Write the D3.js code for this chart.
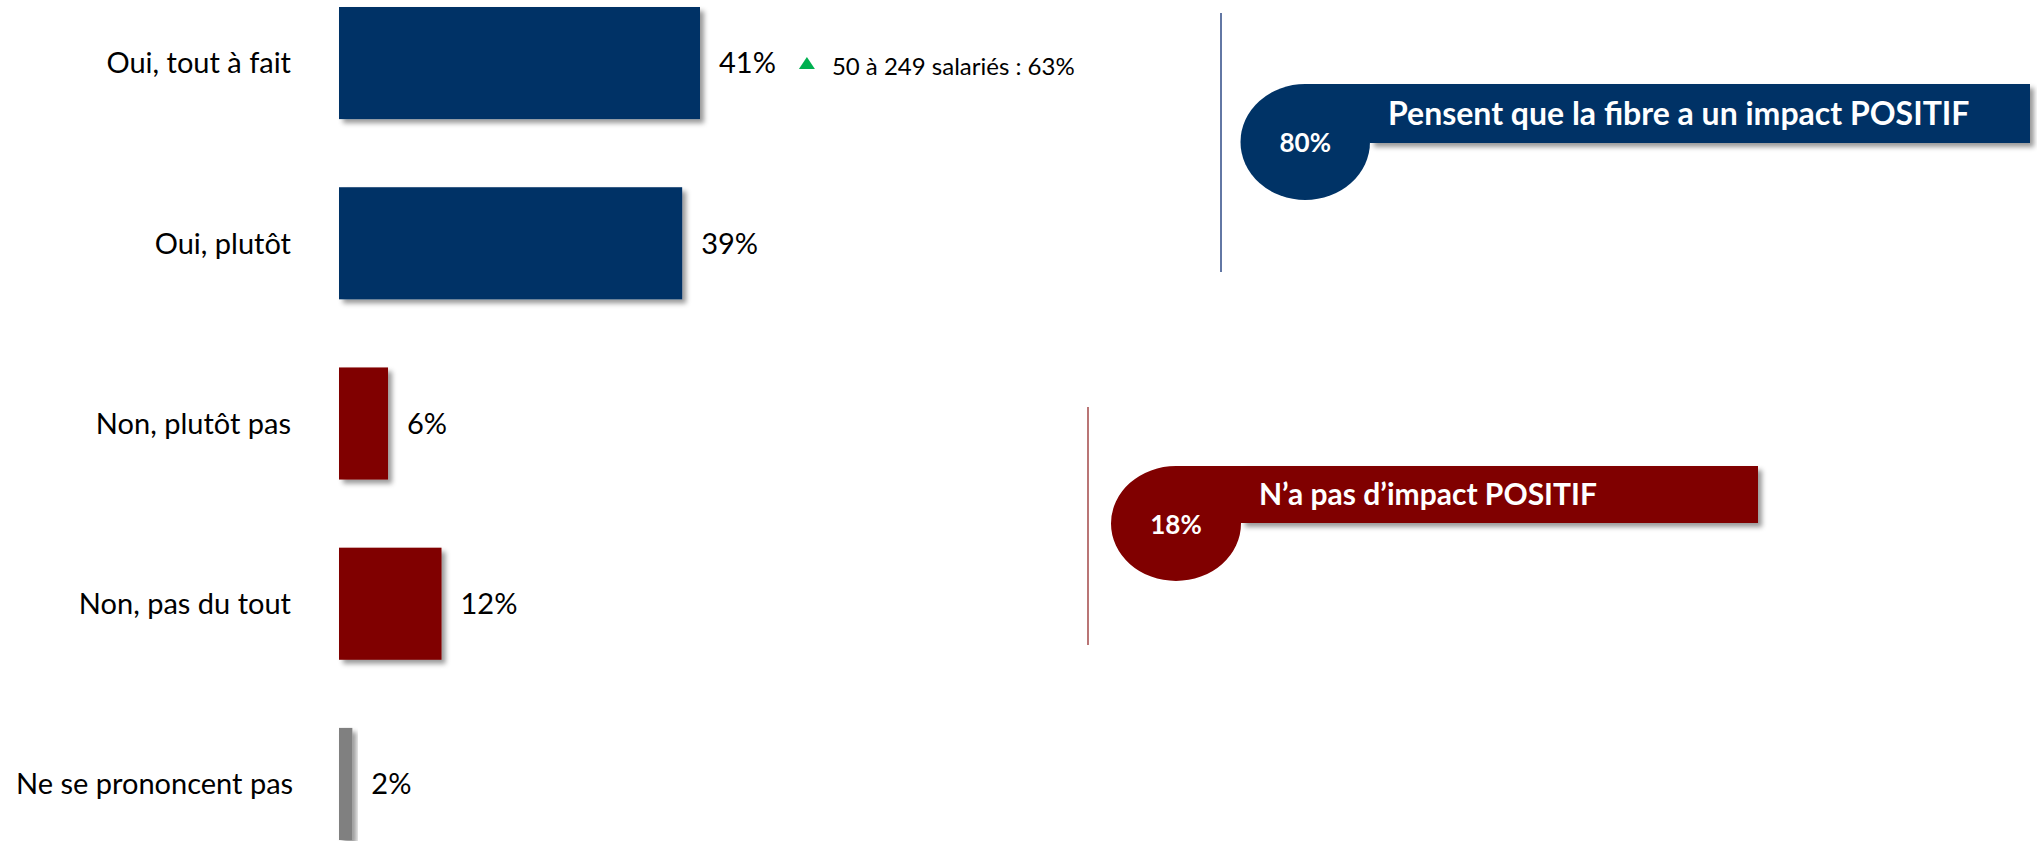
<!DOCTYPE html>
<html>
<head>
<meta charset="utf-8">
<script src="https://cdn.jsdelivr.net/npm/d3@7"></script>
<style>
  html, body { margin: 0; padding: 0; background: #fff; }
  svg { display: block; font-family: Lato, "Open Sans", sans-serif; }
</style>
</head>
<body>
<svg id="chart" width="2037" height="841"></svg>
<script>
// ---- data ----
const categories = ["Oui, tout à fait", "Oui, plutôt", "Non, plutôt pas", "Non, pas du tout", "Ne se prononcent pas"];
const values = [41, 39, 6, 12, 2];
const groups = ["pos", "pos", "neg", "neg", "nsp"];
const valueLabels = ["41%", "39%", "6%", "12%", "2%"];
const annotationText = ["50 à 249 salariés : 63%"];
const summaryValues = ["80%", "18%"];
const summaryLabels = ["Pensent que la fibre a un impact POSITIF", "N’a pas d’impact POSITIF"];
const summaryGroups = ["pos", "neg"];

// ---- styles ----
const color = d3.scaleOrdinal().domain(["pos", "neg", "nsp"]).range(["#003366", "#800000", "#808080"]);
const lineColor = d3.scaleOrdinal().domain(["pos", "neg"]).range(["#2E4A86", "#8B1A1A"]);

const svg = d3.select("#chart");
const defs = svg.append("defs");
const f = defs.append("filter").attr("id", "shadow").attr("x", "-20%").attr("y", "-20%").attr("width", "160%").attr("height", "160%");
f.append("feDropShadow").attr("dx", 4).attr("dy", 4).attr("stdDeviation", 2.5).attr("flood-color", "#000").attr("flood-opacity", 0.4);

// ---- scales ----
const x = d3.scaleLinear().domain([0.5, 41]).range([339, 700]);
const y = d3.scaleBand().domain(categories).range([7, 840]).paddingInner(0.378).paddingOuter(0);

const labelFont = 29;
const capShift = labelFont * 0.36;

// bars
svg.append("g").selectAll("rect").data(categories).join("rect")
  .attr("x", x(0.5))
  .attr("y", d => y(d))
  .attr("width", (d, i) => x(values[i]) - x(0.5))
  .attr("height", y.bandwidth())
  .attr("fill", (d, i) => color(groups[i]))
  .attr("filter", "url(#shadow)");

// category labels
const labelRight = 291, labelMinLeft = 16;
svg.append("g").selectAll("text").data(categories).join("text")
  .attr("x", labelRight)
  .attr("y", d => y(d) + y.bandwidth() / 2 + capShift)
  .attr("text-anchor", "end")
  .attr("font-size", labelFont)
  .attr("fill", "#000")
  .text(d => d)
  .each(function () {
    const w = this.getComputedTextLength();
    if (labelRight - w < labelMinLeft) {
      d3.select(this).attr("text-anchor", "start").attr("x", labelMinLeft);
    }
  });

// value labels
const vl = svg.append("g").selectAll("text").data(categories).join("text")
  .attr("x", (d, i) => x(values[i]) + 19)
  .attr("y", d => y(d) + y.bandwidth() / 2 + capShift)
  .attr("font-size", labelFont)
  .attr("fill", "#000")
  .text((d, i) => valueLabels[i]);

// annotation next to first bar
{
  const node = vl.nodes()[0];
  const endX = x(values[0]) + 19 + node.getComputedTextLength();
  const cy = y(categories[0]) + y.bandwidth() / 2;
  const tx = endX + 23;
  svg.append("path")
    .attr("d", `M${tx},${cy + 6} L${tx + 16},${cy + 6} L${tx + 8},${cy - 6} Z`)
    .attr("fill", "#00B050");
  svg.append("text")
    .attr("x", tx + 33)
    .attr("y", cy + 12)
    .attr("font-size", 24)
    .attr("fill", "#000")
    .text(annotationText[0]);
}

// ---- summary callouts ----
const layouts = [
  { lineX: 1221, lineY0: 13, lineY1: 272, lineW: 1.5, left: 1240.5, right: 1370, top: 84, bottom: 200, bannerRight: 2030, bannerBottom: 143, fs: 32, dy: 11 },
  { lineX: 1088, lineY0: 407, lineY1: 645, lineW: 1.2, left: 1111, right: 1241, top: 466, bottom: 581, bannerRight: 1758, bannerBottom: 523, fs: 30, dy: 10 }
];

summaryValues.forEach((v, i) => {
  const L = layouts[i];
  const g = svg.append("g");
  const c = color(summaryGroups[i]);
  g.append("line")
    .attr("x1", L.lineX).attr("x2", L.lineX)
    .attr("y1", L.lineY0).attr("y2", L.lineY1)
    .attr("stroke", lineColor(summaryGroups[i]))
    .attr("stroke-width", L.lineW);
  // banner
  g.append("rect")
    .attr("x", L.right).attr("y", L.top)
    .attr("width", L.bannerRight - L.right)
    .attr("height", L.bannerBottom - L.top)
    .attr("fill", c)
    .attr("filter", "url(#shadow)");
  // teardrop shape
  const cx = (L.left + L.right) / 2, cy = (L.top + L.bottom) / 2;
  const rx = (L.right - L.left) / 2, ry = (L.bottom - L.top) / 2;
  g.append("path")
    .attr("d", `M${cx},${L.top} H${L.right} V${cy} A${rx},${ry} 0 0 1 ${cx},${L.bottom} A${rx},${ry} 0 0 1 ${L.left},${cy} A${rx},${ry} 0 0 1 ${cx},${L.top} Z`)
    .attr("fill", c);
  g.append("text")
    .attr("x", cx).attr("y", cy + 10)
    .attr("text-anchor", "middle")
    .attr("font-size", 26).attr("font-weight", "bold")
    .attr("fill", "#fff")
    .text(v);
  g.append("text")
    .attr("x", L.right + 18)
    .attr("y", L.top + (L.bannerBottom - L.top) / 2 + L.dy)
    .attr("font-size", L.fs).attr("font-weight", "bold")
    .attr("fill", "#fff")
    .text(summaryLabels[i]);
});
</script>
</body>
</html>
